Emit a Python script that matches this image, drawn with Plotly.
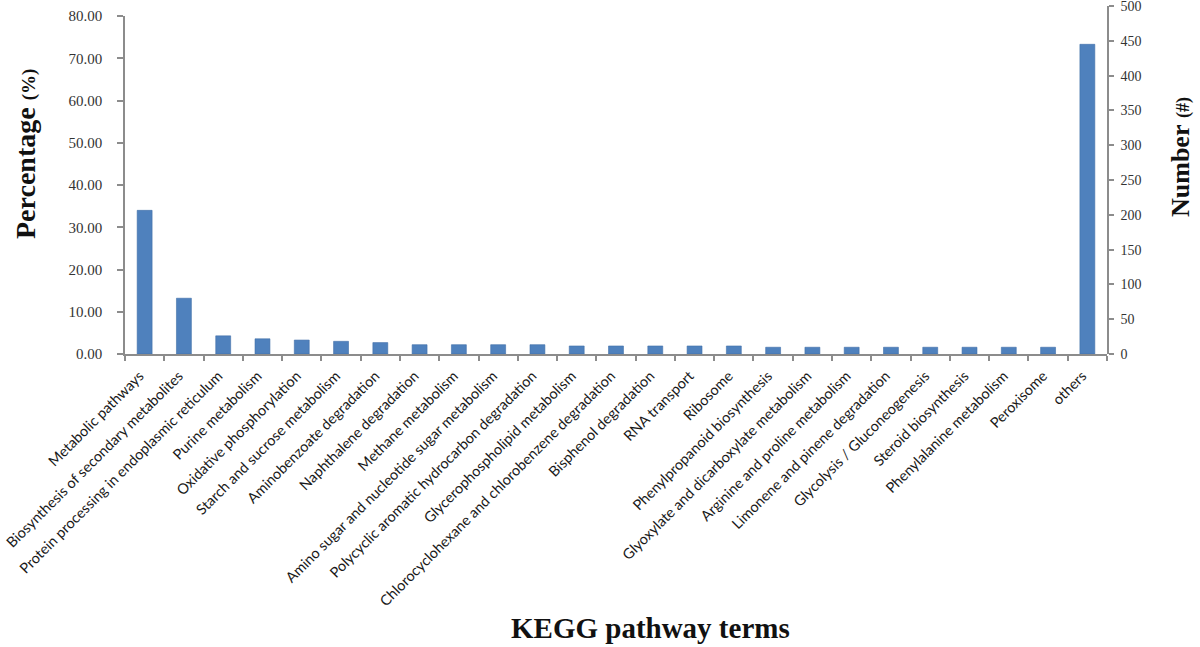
import plotly.graph_objects as go

categories = [
    "Metabolic pathways",
    "Biosynthesis of secondary metabolites",
    "Protein processing in endoplasmic reticulum",
    "Purine metabolism",
    "Oxidative phosphorylation",
    "Starch and sucrose metabolism",
    "Aminobenzoate degradation",
    "Naphthalene degradation",
    "Methane metabolism",
    "Amino sugar and nucleotide sugar metabolism",
    "Polycyclic aromatic hydrocarbon degradation",
    "Glycerophospholipid metabolism",
    "Chlorocyclohexane and chlorobenzene degradation",
    "Bisphenol degradation",
    "RNA transport",
    "Ribosome",
    "Phenylpropanoid biosynthesis",
    "Glyoxylate and dicarboxylate metabolism",
    "Arginine and proline metabolism",
    "Limonene and pinene degradation",
    "Glycolysis / Gluconeogenesis",
    "Steroid biosynthesis",
    "Phenylalanine metabolism",
    "Peroxisome",
    "others",
]
percentages = [34.0, 13.2, 4.3, 3.6, 3.3, 3.0, 2.7, 2.2, 2.2, 2.2, 2.2,
               1.9, 1.9, 1.9, 1.9, 1.9, 1.6, 1.6, 1.6, 1.6, 1.6, 1.6, 1.6, 1.6, 73.3]
left_ticks = [0, 10, 20, 30, 40, 50, 60, 70, 80]
left_tick_text = ["%.2f" % v for v in left_ticks]
right_ticks = [0, 50, 100, 150, 200, 250, 300, 350, 400, 450, 500]

AXIS_GRAY = "#8c8c8c"
BAR_BLUE = "#4f81bd"

TOP = 6
BASE = 354
H = BASE - TOP

fig = go.Figure()
fig.add_trace(go.Bar(
    x=categories, y=percentages, xaxis="x", yaxis="y",
    marker=dict(color=BAR_BLUE, line=dict(color="#3f6fa8", width=0.6)),
    hoverinfo="x+y",
))
# invisible helper trace so the right-hand "Number" axis is drawn
fig.add_trace(go.Scatter(
    x=[categories[0]], y=[0], xaxis="x", yaxis="y2",
    mode="markers", marker=dict(opacity=0), hoverinfo="skip", showlegend=False,
))

serif = "Liberation Serif, Times New Roman, serif"

fig.update_layout(
    width=1200, height=647,
    margin=dict(l=125, r=93, t=TOP, b=647 - BASE, autoexpand=False),
    paper_bgcolor="white", plot_bgcolor="rgba(0,0,0,0)",
    showlegend=False,
    bargap=0.62,
    xaxis=dict(
        domain=[0, 1], anchor="y", automargin=False,
        type="category", range=[-0.5, len(categories) - 0.5],
        showline=True, linecolor=AXIS_GRAY, linewidth=1.5,
        ticks="outside", tickson="boundaries", ticklen=5, tickcolor=AXIS_GRAY, tickwidth=1.5,
        tickangle=-45, ticklabelstandoff=6, ticklabelshift=-5,
        tickfont=dict(family="Lato, Open Sans, sans-serif", size=14.5, color="#1a1a1a"),
        showgrid=False, zeroline=False,
    ),
    yaxis=dict(
        domain=[0, (BASE - 16) / H], anchor="x", automargin=False,
        range=[0, 80], tickvals=left_ticks, ticktext=left_tick_text,
        showline=True, linecolor=AXIS_GRAY, linewidth=1.5,
        ticks="outside", ticklen=6, tickcolor=AXIS_GRAY, tickwidth=1.5,
        ticklabelstandoff=12, ticklabeloverflow="allow",
        tickfont=dict(family=serif, size=15, color="#333333"),
        showgrid=False, zeroline=False,
    ),
    yaxis2=dict(
        domain=[0, 1], anchor="x", side="right", automargin=False,
        range=[0, 500], tickvals=right_ticks,
        showline=True, linecolor=AXIS_GRAY, linewidth=1.5,
        ticks="outside", ticklen=5, tickcolor=AXIS_GRAY, tickwidth=1.5,
        ticklabelstandoff=4, ticklabeloverflow="allow",
        tickfont=dict(family=serif, size=14, color="#333333"),
        showgrid=False, zeroline=False,
    ),
    annotations=[
        dict(text="<b>Percentage</b> <b><span style='font-size:19px'>(%)</span></b>",
             xref="paper", yref="paper", x=(25 - 125) / 982, y=(BASE - 154) / H,
             xanchor="center", yanchor="middle", textangle=-90, showarrow=False,
             font=dict(family=serif, size=28, color="#111111")),
        dict(text="<b>Number</b> <b><span style='font-size:18px'>(#)</span></b>",
             xref="paper", yref="paper", x=(1180 - 125) / 982, y=(BASE - 157) / H,
             xanchor="center", yanchor="middle", textangle=-90, showarrow=False,
             font=dict(family=serif, size=26, color="#111111")),
        dict(text="<b>KEGG pathway terms</b>",
             xref="paper", yref="paper", x=(650 - 125) / 982, y=(BASE - 628) / H,
             xanchor="center", yanchor="middle", showarrow=False,
             font=dict(family=serif, size=29, color="#111111")),
    ],
)

fig.write_html(
    "out.html",
    config={"displayModeBar": False},
    post_script="document.body.style.margin='0';document.body.style.overflow='hidden';",
)
